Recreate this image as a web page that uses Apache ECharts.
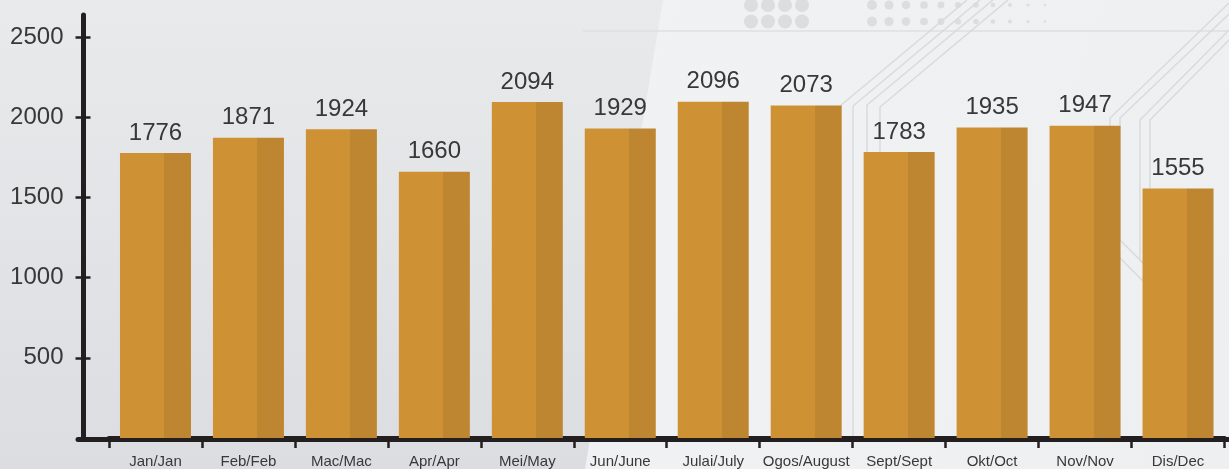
<!DOCTYPE html>
<html>
<head>
<meta charset="utf-8">
<script src="https://cdn.jsdelivr.net/npm/echarts@6/dist/echarts.min.js"></script>
<style>
html,body{margin:0;padding:0;background:#f1f2f3;}
#c{width:1229px;height:469px;}
</style>
</head>
<body>
<div id="c"></div>
<script>
const categories = ['Jan/Jan','Feb/Feb','Mac/Mac','Apr/Apr','Mei/May','Jun/June','Julai/July','Ogos/August','Sept/Sept','Okt/Oct','Nov/Nov','Dis/Dec'];
const values = [1776,1871,1924,1660,2094,1929,2096,2073,1783,1935,1947,1555];
const yTicks = [500,1000,1500,2000,2500];

const FONT = '"Liberation Sans", Arial, Helvetica, sans-serif';
const AX = '#231f20';
const TXT = '#383838';
const LIGHT = '#ce9134';
const DARK = '#bf8631';
const LINE = '#d9dadc';

// decorative background
const bg = [];
bg.push({type:'rect', z:-100, silent:true, shape:{x:0,y:0,width:1229,height:469},
  style:{fill:{type:'linear',x:0,y:0,x2:1,y2:1,colorStops:[{offset:0,color:'#f3f4f5'},{offset:1,color:'#eeeff0'}]}}});
bg.push({type:'polygon', z:-99, silent:true, shape:{points:[[0,0],[663,0],[585,469],[0,469]]},
  style:{fill:{type:'linear',x:0,y:0,x2:0,y2:1,colorStops:[{offset:0,color:'#e9eaec'},{offset:1,color:'#dcdde0'}]}}});
bg.push({type:'line', z:-98, silent:true, shape:{x1:583,y1:31,x2:1229,y2:31}, style:{stroke:'#dedfe0',lineWidth:1.5}});
[751,768,785,802].forEach(x=>{[5,21.5].forEach(y=>{
  bg.push({type:'circle', z:-98, silent:true, shape:{cx:x,cy:y,r:7}, style:{fill:'#dcdddd'}});
});});
const sx=[872,889,906,924,941,958,976,993,1010,1028,1045];
sx.forEach((x,i)=>{[5,21.5].forEach(y=>{
  bg.push({type:'circle', z:-98, silent:true, shape:{cx:x,cy:y,r:5-i*0.38}, style:{fill:'#dcdddd'}});
});});
const circuit = [
  [[1008,0],[880,107],[880,300]],
  [[993,0],[867,105],[867,440]],
  [[980,0],[853,106],[853,440]],
  [[967,0],[840,106],[840,160]],
  [[1229,3],[1110,118],[1110,248],[1160,298],[1160,440]],
  [[1229,14],[1120,118],[1120,240],[1168,288],[1168,440]],
  [[1229,30],[1140,120],[1140,260],[1190,310],[1190,440]],
  [[1229,40],[1150,120],[1150,250],[1200,300],[1200,440]]
];
circuit.forEach(p=>bg.push({type:'polyline', z:-97, silent:true, shape:{points:p}, style:{stroke:LINE,lineWidth:1.5,fill:null}}));

const chart = echarts.init(document.getElementById('c'), null, {renderer:'canvas'});
const yMaxPx = 2500 * (439.5-15) / (439.5-37);

chart.setOption({
  animation:false,
  graphic: bg,
  grid:[
    {left:109, right:4.5, top:15, bottom:29.5},
    {left:78, right:0, top:15, bottom:29.5}
  ],
  xAxis:[
    {type:'category', gridIndex:0, data:categories, offset:2,
      axisLine:{show:true,lineStyle:{color:AX,width:5}},
      axisTick:{show:true,inside:false,length:10,lineStyle:{color:AX,width:2.5}},
      axisLabel:{color:TXT,fontFamily:FONT,fontSize:15,margin:14,interval:0}},
    {type:'category', gridIndex:0, data:categories, offset:2,
      axisLine:{show:false},
      axisTick:{show:true,inside:true,length:10,lineStyle:{color:AX,width:2.5}},
      axisLabel:{show:false}},
    {type:'value', gridIndex:1, offset:2,
      axisLine:{show:true,lineStyle:{color:AX,width:5}},
      axisTick:{show:false}, axisLabel:{show:false}, splitLine:{show:false}}
  ],
  yAxis:[
    {type:'value', gridIndex:0, min:0, max:yMaxPx, offset:25.5,
      axisLine:{show:true,lineStyle:{color:AX,width:5}},
      axisTick:{show:true,inside:false,length:8,customValues:yTicks,lineStyle:{color:AX,width:2.5}},
      axisLabel:{customValues:yTicks,formatter:v=>String(v),color:TXT,fontFamily:FONT,fontSize:24,margin:20},
      splitLine:{show:false}},
    {type:'value', gridIndex:0, min:0, max:yMaxPx, offset:25.5, position:'left',
      axisLine:{show:false},
      axisTick:{show:true,inside:true,length:7,customValues:yTicks,lineStyle:{color:AX,width:2.5}},
      axisLabel:{show:false}, splitLine:{show:false}},
    {type:'value', gridIndex:1, show:false}
  ],
  series:[{
    type:'bar', xAxisIndex:0, yAxisIndex:0, data:values, barWidth:71, z:3,
    itemStyle:{color:{type:'linear',x:0,y:0,x2:1,y2:0,colorStops:[
      {offset:0,color:LIGHT},{offset:0.62,color:LIGHT},{offset:0.62,color:DARK},{offset:1,color:DARK}]}},
    label:{show:true,position:'top',distance:8,color:TXT,fontFamily:FONT,fontSize:24}
  }]
});
</script>
</body>
</html>
